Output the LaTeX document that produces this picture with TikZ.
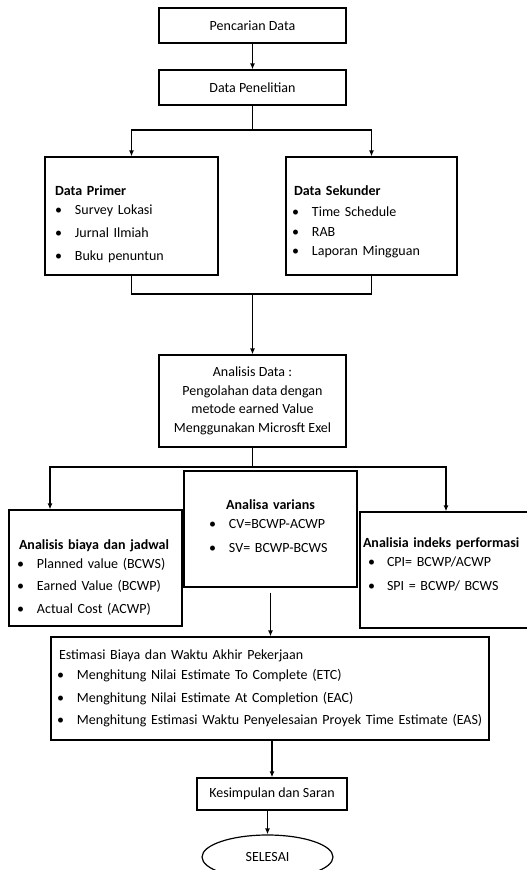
\documentclass[tikz,border=0pt]{standalone}
\usepackage{fontspec}
\setmainfont{Carlito}
\usepackage{tikz}
\usetikzlibrary{positioning,arrows.meta,shapes.geometric}
\newcommand{\poin}[1]{\makebox[20pt][l]{\textbullet}#1}

\begin{document}
\begin{tikzpicture}[x=1pt, y=-1pt,
  >={Latex[length=6pt,width=5pt]},
  kotak/.style={draw, rectangle, line width=1.2pt,
    font=\fontsize{14}{17}\selectfont},
  daftar/.style={kotak, align=left, minimum height=116},
  garis/.style={line width=1.2pt}]

\useasboundingbox (0,0) rectangle (527,870);

% Pencarian
\node[kotak, minimum width=187, minimum height=35] (cari) at (252.5,25.5) {Pencarian Data};
\node[kotak, minimum width=187, minimum height=35] (teliti) at (252.5,87.5) {Data Penelitian};

% Data primer dan sekunder
\node[daftar, minimum width=173, minimum height=118,
  inner xsep=10pt, text width=153pt] (primer) at (131.5,216)
  {\rule{0pt}{25.5pt}\textbf{Data Primer}\\[2pt]
   \poin{Survey Lokasi}\\[6pt]
   \poin{Jurnal Ilmiah}\\[6pt]
   \poin{Buku penuntun}};
\node[daftar, minimum width=171, minimum height=118,
  inner xsep=6pt, text width=159pt] (sekunder) at (371.5,216)
  {\rule{0pt}{21.5pt}\hspace*{2pt}\textbf{Data Sekunder}\\[4pt]
   \poin{Time Schedule}\\[2.5pt]
   \poin{RAB}\\[2.5pt]
   \poin{Laporan Mingguan}};

% Analisis data
\node[kotak, align=center, minimum width=187, minimum height=92] (analisis) at (252.5,401)
  {Analisis Data :\\[1.5pt]
   Pengolahan data dengan\\[1.5pt]
   metode earned Value\\[1.5pt]
   Menggunakan Microsft Exel};

% Tiga analisa
\node[daftar, minimum width=173, inner xsep=8pt, text width=157pt] (biaya) at (95.5,568)
  {\rule{0pt}{28.5pt}\hspace*{2pt}\textbf{Analisis biaya dan jadwal}\\[2pt]
   \poin{Planned value (BCWS)}\\[5pt]
   \poin{Earned Value (BCWP)}\\[6pt]
   \poin{Actual Cost (ACWP)}};
\node[daftar, minimum width=173, inner xsep=25pt, text width=123pt] (varians) at (270.5,529)
  {\makebox[\linewidth]{\bfseries Analisa varians}\\[2pt]
   \poin{CV=BCWP-ACWP}\\[7pt]
   \poin{SV= BCWP-BCWS}\rule[-6pt]{0pt}{6pt}};
\node[daftar, minimum width=170, inner xsep=3pt, text width=164pt] (indeks) at (445,570)
  {\textbf{Analisia indeks performasi}\\[2pt]
   \hspace*{5pt}\makebox[19pt][l]{\textbullet}CPI= BCWP/ACWP\\[7pt]
   \hspace*{5pt}\makebox[19pt][l]{\textbullet}SPI = BCWP/ BCWS\rule[-12.5pt]{0pt}{12.5pt}};

% Estimasi dan penutup
\node[daftar, minimum width=438, minimum height=103,
  inner xsep=6pt, text width=426pt] (estimasi) at (270,688.5)
  {\hspace*{2pt}Estimasi Biaya dan Waktu Akhir Pekerjaan\\[3pt]
   \poin{Menghitung Nilai Estimate To Complete (ETC)}\\[6pt]
   \poin{Menghitung Nilai Estimate At Completion (EAC)}\\[5pt]
   \poin{Menghitung Estimasi Waktu Penyelesaian Proyek Time Estimate (EAS)}};
\node[kotak, minimum width=150, minimum height=32] (simpul) at (272,794) {Kesimpulan dan Saran};
\node[kotak, ellipse, inner sep=0pt, minimum width=131, minimum height=44] (selesai) at (267.5,857) {SELESAI};

% Connect atas
\coordinate (cab1) at (252.5,130);
\coordinate (gabung) at (252.5,294);
\draw[garis, ->] (cari) -- (teliti);
\draw[garis] (teliti) -- (cab1);
\draw[garis, ->] (cab1) -| (primer);
\draw[garis, ->] (cab1) -| (sekunder);
\draw[garis] (primer) |- (gabung);
\draw[garis] (sekunder) |- (gabung);
\draw[garis, ->] (gabung) -- (analisis);

% Connect analisa
\coordinate (cab2) at (252.5,467);
\coordinate (kiri) at (50,467);
\coordinate (kanan) at (446,467);
\draw[garis] (analisis) -- (cab2);
\draw[garis, ->] (cab2) -| (kiri |- biaya.north);
\draw[garis, ->] (cab2) -| (kanan |- indeks.north);

% Connect bawah
\draw[garis, ->, shorten <=5pt] (varians) -- (varians |- estimasi.north);
\draw[garis, ->] (estimasi.south -| simpul) -- (simpul);
\draw[garis, ->] (simpul.south -| selesai) -- (selesai);

\end{tikzpicture}
\end{document}
